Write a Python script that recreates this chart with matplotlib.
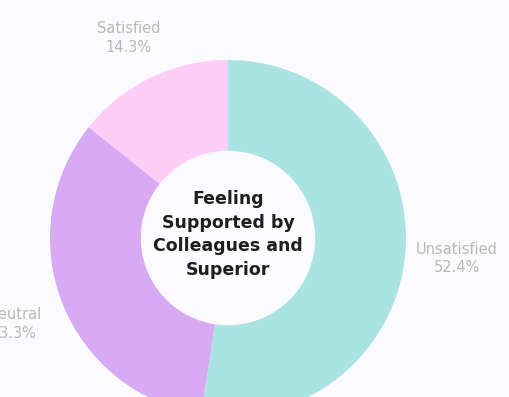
import numpy as np
import matplotlib.pyplot as plt

categories = ["Unsatisfied", "Neutral", "Satisfied"]
shares = [52.4, 33.3, 14.3]
colors = ["#a9e3e2", "#d8aaf3", "#fdcdf8"]
center_title = "Feeling\nSupported by\nColleagues and\nSuperior"

fig = plt.figure(figsize=(5.09, 3.97), dpi=100)
fig.patch.set_facecolor("#fbfafd")
ax = fig.add_axes([0, 0, 1, 1])
ax.set_facecolor("#fbfafd")

wedges, _ = ax.pie(shares, colors=colors, startangle=90, counterclock=False,
                   radius=1.0, wedgeprops=dict(width=0.51, edgecolor="none"))

# labels outside each wedge, centred on the wedge's mid angle
for w, name, val in zip(wedges, categories, shares):
    ang = np.deg2rad((w.theta1 + w.theta2) / 2)
    x, y = 1.29 * np.cos(ang), 1.27 * np.sin(ang) - 0.02
    ax.text(x, y, f"{name}\n{val}%", ha="center", va="center",
            fontsize=10.5, color="#b8b8b8", linespacing=1.3)

ax.text(0, 0.02, center_title, ha="center", va="center", fontsize=12.5,
        fontweight="bold", color="#1e1e1e", linespacing=1.4)

ax.set_xlim(-1.281, 1.579)
ax.set_ylim(-0.893, 1.337)
ax.set_aspect("auto")
ax.axis("off")

fig.savefig("out.png", dpi=100, facecolor=fig.get_facecolor())
